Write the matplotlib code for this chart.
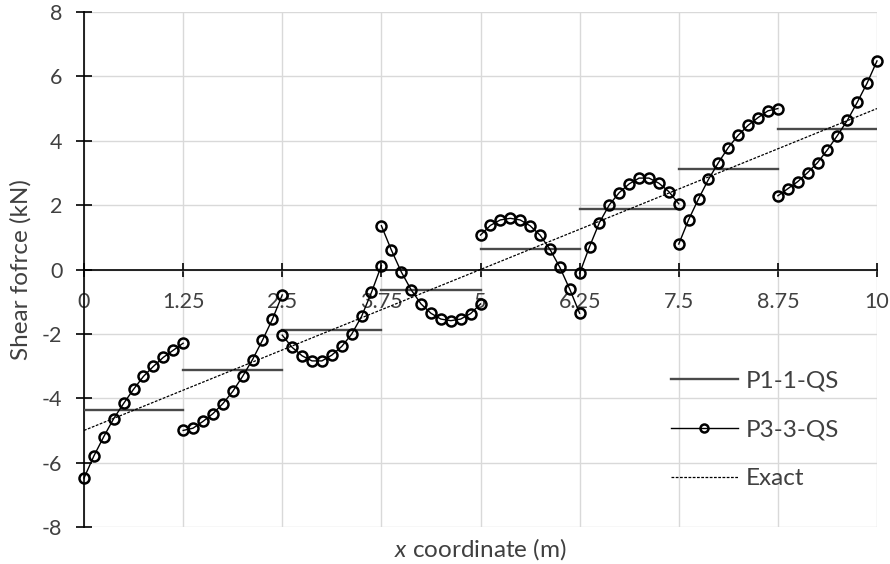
import matplotlib
matplotlib.use("Agg")
import matplotlib.pyplot as plt
import numpy as np

plt.rcParams['font.family'] = ['Lato', 'DejaVu Sans']
plt.rcParams['axes.unicode_minus'] = False
plt.rcParams['mathtext.fontset'] = 'custom'
plt.rcParams['mathtext.it'] = 'Lato:italic'
plt.rcParams['mathtext.rm'] = 'Lato'

# Segment boundaries (element edges, m)
edges = [0, 1.25, 2.5, 3.75, 5, 6.25, 7.5, 8.75, 10]
xtick_labels = ["0", "1.25", "2.5", "3.75", "5", "6.25", "7.5", "8.75", "10"]
ytick_values = [-8, -6, -4, -2, 0, 2, 4, 6, 8]

# P1-1-QS: constant shear per element
p1_values = [-4.375, -3.125, -1.875, -0.625, 0.625, 1.875, 3.125, 4.375]

# P3-3-QS: 11 sample points per element
p3_seg1 = [-6.48, -5.79, -5.19, -4.63, -4.16, -3.72, -3.32, -3.01, -2.73, -2.51, -2.29]
p3_seg2 = [-5.00, -4.93, -4.72, -4.48, -4.17, -3.79, -3.32, -2.80, -2.20, -1.55, -0.79]
p3_seg3 = [-2.04, -2.42, -2.68, -2.84, -2.84, -2.66, -2.39, -2.01, -1.46, -0.71, 0.12]
p3_seg4 = [1.36, 0.61, -0.07, -0.63, -1.07, -1.36, -1.54, -1.59, -1.54, -1.37, -1.07]
p3_seg5 = [1.07, 1.37, 1.54, 1.59, 1.54, 1.36, 1.07, 0.63, 0.07, -0.61, -1.36]
p3_seg6 = [-0.12, 0.71, 1.46, 2.01, 2.39, 2.66, 2.84, 2.84, 2.68, 2.42, 2.04]
p3_seg7 = [0.79, 1.55, 2.20, 2.80, 3.32, 3.79, 4.17, 4.48, 4.72, 4.93, 5.00]
p3_seg8 = [2.29, 2.51, 2.73, 3.01, 3.32, 3.72, 4.16, 4.63, 5.19, 5.79, 6.48]
p3_segments = [p3_seg1, p3_seg2, p3_seg3, p3_seg4, p3_seg5, p3_seg6, p3_seg7, p3_seg8]

# Exact solution end values
exact_x = [0, 10]
exact_y = [-5, 5]

fig = plt.figure(figsize=(8.9, 5.64), dpi=100)
ax = fig.add_axes([84/890, 1-527/564, (877-84)/890, (527-12)/564])

text_color = '#404040'

ax.set_xlim(0, 10)
ax.set_ylim(-8, 8)
ax.set_xticks(edges)
ax.set_xticklabels(xtick_labels)
ax.set_yticks(ytick_values)
ax.grid(True, color='#d9d9d9', lw=1.0)
ax.set_axisbelow(True)

# P1-1-QS
for i, v in enumerate(p1_values):
    ax.plot([edges[i], edges[i+1]], [v, v], color='#4a4a4a', lw=1.7, zorder=3,
            label='P1-1-QS' if i == 0 else None)

# P3-3-QS
for i, seg in enumerate(p3_segments):
    xs = np.linspace(edges[i], edges[i+1], len(seg))
    ax.plot(xs, seg, color='black', lw=1.0, marker='o', ms=7.2, mfc='none',
            mec='black', mew=1.8, zorder=4, clip_on=False,
            label='P3-3-QS' if i == 0 else None)

# Exact
ax.plot(exact_x, exact_y, color='black', lw=0.9, ls=(0, (2.2, 1.2)), zorder=3, label='Exact')

# Spines
for s in ['top', 'right']:
    ax.spines[s].set_visible(False)
ax.spines['bottom'].set_position(('data', 0))
ax.spines['left'].set_position(('data', 0))
for s in ['bottom', 'left']:
    ax.spines[s].set_color('black')
    ax.spines[s].set_linewidth(1.2)
ax.spines['bottom'].set_zorder(2)

ax.tick_params(axis='x', direction='inout', length=10, width=1.2, pad=11.5,
               labelsize=15.5, labelcolor=text_color, color='black')
ax.tick_params(axis='y', direction='inout', length=11, width=1.2, pad=10,
               labelsize=15.5, labelcolor=text_color, color='black')

ax.set_xlabel(r'$x$ coordinate (m)', fontsize=17.5, color=text_color, labelpad=0)
ax.xaxis.set_label_coords(0.5, -0.018)
ax.set_ylabel('Shear fofrce (kN)', fontsize=17.5, color=text_color)
ax.yaxis.set_label_coords(-0.066, 0.5)

leg = ax.legend(loc='upper left', bbox_to_anchor=(0.7427, 0.361),
                bbox_transform=fig.transFigure, borderaxespad=0, frameon=False,
                fontsize=17.5, handlelength=2.76, handletextpad=0.33,
                labelspacing=1.15, markerscale=0.8, numpoints=1, labelcolor=text_color)

fig.savefig('out.png', dpi=100)
